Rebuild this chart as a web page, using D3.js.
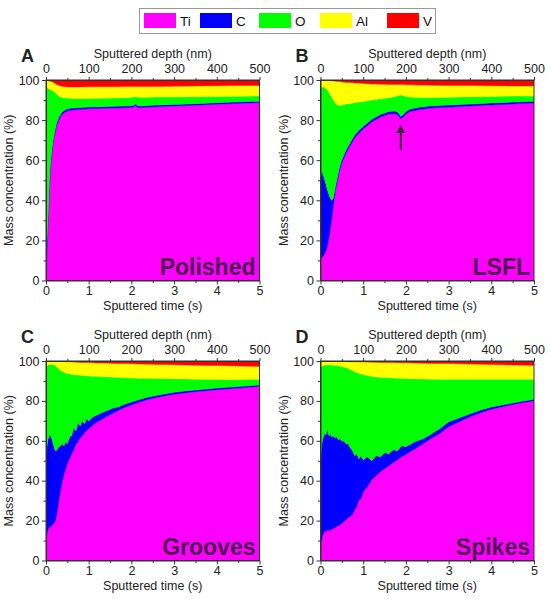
<!DOCTYPE html>
<html><head><meta charset="utf-8">
<script src="https://cdn.jsdelivr.net/npm/d3@7"></script>
<style>
body{margin:0;background:#fff}
text{font-family:"Liberation Sans",Arial,Helvetica,sans-serif}
</style>
</head><body>
<svg id="chart" width="550" height="599"></svg>
<script>
// ---- data ----
const elements = ["Ti","C","O","Al","V"];
const elementColors = ["#ff00ff","#0000ff","#00ff00","#ffff00","#ff0000"];
const yTickValues = [0,20,40,60,80,100];
const timeTickValues = [0,1,2,3,4,5];
const depthTickValues = [0,100,200,300,400,500];

// Panel A (Polished)
const timeA = [0,0.02,0.04,0.06,0.08,0.1,0.13,0.16,0.2,0.25,0.3,0.35,0.4,0.5,0.6,0.8,1.0,1.3,1.6,1.9,2.05,2.1,2.15,2.3,2.6,3.0,3.5,4.0,4.5,5.0];
const TiA = [3,12,22,33,45,54,61,67,72,77,80,82,83.3,84.5,85,85.3,85.6,85.8,86,86.2,86.4,87.3,86.2,86.3,86.6,87,87.4,87.9,88.3,88.7];
const CA  = [7,6,5,4,3.5,3,2.5,2,1.8,1.6,1.4,1.3,1.2,1.1,1,1,0.9,0.9,0.9,0.9,0.9,0.9,0.9,0.9,0.9,0.8,0.8,0.8,0.8,0.7];
const OA  = [89,79,69,58.5,47,38,31.5,25.7,20.2,14.4,10.6,8.2,6.7,5.4,4.8,4.5,4.3,4.2,4.1,4.1,4.2,3.4,4.3,4.2,4,3.7,3.4,3.1,2.8,2.6];
const AlA = [1,2.8,3.7,4.1,4,4.3,4.2,4.3,4.4,4.8,5.3,5.5,5.6,5.5,5.7,5.7,5.8,5.7,5.6,5.5,5.2,5.1,5.3,5.3,5.3,5.4,5.4,5.3,5.3,5.3];
const VA  = [0,0.2,0.3,0.4,0.5,0.7,0.8,1,1.6,2.2,2.7,3,3.2,3.5,3.5,3.5,3.4,3.4,3.4,3.3,3.3,3.3,3.3,3.3,3.2,3.1,3,2.9,2.8,2.7];

// Panel B (LSFL)
const timeB = [0,0.03,0.06,0.1,0.14,0.18,0.22,0.26,0.3,0.35,0.4,0.45,0.5,0.6,0.7,0.8,0.9,1.0,1.2,1.4,1.6,1.75,1.82,1.88,1.94,2.0,2.1,2.3,2.6,3.0,3.5,4.0,4.5,5.0];
const TiB = [11,11.5,12,13.5,15.5,19,24,30,37,45,50,55,58.5,63.5,67.5,71,73.5,75.5,79,81.5,83,83.2,82.5,80.5,81.5,83,84.3,85.2,86,86.4,87,87.5,88,88.5];
const CB  = [39,43.5,41,36.5,31.5,25,17.5,10,4,2,2,1.8,1.7,1.6,1.5,1.5,1.5,1.4,1.4,1.3,1.3,1.3,1.3,1.3,1.3,1.3,1.2,1.2,1.1,1.1,1,1,1,0.9];
const OB  = [46,41.5,43.5,46.3,48.5,50.5,51.5,51.5,49,41.5,35.5,30.5,27.3,22.9,19.3,16.2,14,12.4,9.6,7.8,6.9,7.3,8.5,10.8,9.4,7.5,6,4.9,4.2,3.9,3.6,3.3,3,2.6];
const AlB = [4,3.4,3.4,3.6,4.3,5.2,6.7,8.1,9.5,10.9,11.8,11.9,11.5,10.8,10.4,9.8,9.4,9,8,7.3,6.6,6,5.4,5.1,5.5,5.8,6.1,6.2,6.1,5.8,5.6,5.3,5,5];
const VB  = [0,0.1,0.1,0.1,0.2,0.3,0.3,0.4,0.5,0.6,0.7,0.8,1,1.2,1.3,1.5,1.6,1.7,2,2.1,2.2,2.2,2.3,2.3,2.3,2.4,2.4,2.5,2.6,2.8,2.8,2.9,3,3];

// Panels C (Grooves) and D (Spikes)
const timeCD = [0,0.02,0.05,0.08,0.1,0.13,0.16,0.2,0.23,0.26,0.3,0.34,0.38,0.42,0.46,0.5,0.55,0.6,0.65,0.7,0.75,0.8,0.85,0.9,0.95,1.0,1.1,1.2,1.3,1.4,1.5,1.6,1.7,1.8,1.9,2.0,2.2,2.4,2.6,2.8,3.0,3.25,3.5,3.75,4.0,4.25,4.5,4.75,5.0];
const TiC = [10,13,15.5,17,16.5,17.5,18,19,20.5,24,30,35,39.5,43,46,48.5,51,53.5,55.5,58,59.5,61.5,62.5,64,65,66,68,69.5,70.5,72,73,74.2,75.3,76.3,77.2,78,79.5,80.8,81.7,82.6,83.3,84,84.6,85.1,85.6,86,86.4,86.8,87.3];
const CC  = [40,44,45.5,45.5,46.5,44,41,37,34.5,31.5,27,22.5,19,14.5,13.5,10,11,9,11,7,9.5,6,7.5,4.5,6,4,4,3.5,3.5,3,2.8,2.5,1.7,1.8,1.6,1.5,1.3,1.2,1.1,1,1,1,0.9,0.9,0.9,0.9,0.8,0.8,0.7];
const OC  = [47,40.5,37,35.7,35.3,36.8,39.2,42,42.5,41.5,39,37.8,36.3,36.8,34.5,35.2,31.5,30.8,26.7,28,24,25.4,22.8,24.2,21.6,22.5,20.4,19.3,18.2,17.1,16.2,15.2,14.8,13.6,12.8,12,10.6,9.3,8.4,7.6,6.8,6,5.4,4.8,4.2,3.8,3.5,3.2,2.8];
const AlC = [3,2.5,2,1.8,1.6,1.6,1.7,1.9,2.4,2.8,3.8,4.5,5,5.4,5.7,5.9,6.1,6.2,6.3,6.4,6.4,6.4,6.5,6.6,6.6,6.7,6.7,6.7,6.8,6.9,6.9,6.9,7,7,7.1,7.1,7.1,7.1,7.1,7.1,7,7,7,7,7,6.9,6.8,6.6,6.5];
const VC  = [0,0,0,0,0.1,0.1,0.1,0.1,0.1,0.2,0.2,0.2,0.2,0.3,0.3,0.4,0.4,0.5,0.5,0.6,0.6,0.7,0.7,0.7,0.8,0.8,0.9,1,1,1,1.1,1.2,1.2,1.3,1.3,1.4,1.5,1.6,1.7,1.7,1.9,2,2.1,2.2,2.3,2.4,2.5,2.6,2.7];

const TiD = [7,9,12.5,14,14.5,14.8,15,15.2,15.3,15.5,16,16.5,17,17.5,18,18.7,19.5,20.5,21.5,22.3,23,25.5,27,30.5,31,34.5,37,40.5,42.5,44.5,46,47.5,49,50.5,52,53.3,55.8,58.5,61.3,63.8,67,69.5,72,74,75.8,77,78.2,79.2,80];
const CD  = [41,47,48.5,48.5,49.5,48.2,51,47.3,48.2,46.5,46.5,45,45,43,43,41.3,40.3,38,37,34.2,32,27,26.5,20.5,21.5,16,15,9.5,10,7.5,8,6,6.5,4.5,5.5,3.7,3.7,2.5,2.2,2.5,2.5,2,1.5,1.5,1.2,1,0.8,0.8,0.8];
const OD  = [49,41.3,36.5,35.3,34,35,32,35.5,34.5,36,35.4,36.3,35.7,37.1,36.4,37.2,37.2,38.2,37.8,39.3,40.2,42.1,40.7,42.8,41,42.7,40.7,42.3,39.5,39.8,37.7,38.1,36,36.4,33.8,34.2,31.6,30,27.4,24.6,21.3,19.3,17.3,15.3,13.8,12.8,11.8,10.8,10];
const AlD = [3,2.7,2.5,2.1,1.9,1.9,1.9,1.9,1.9,1.9,2,2.1,2.15,2.2,2.4,2.6,2.75,3,3.4,3.85,4.4,5,5.35,5.75,6,6.3,6.75,7.1,7.35,7.5,7.6,7.65,7.7,7.75,7.8,7.9,7.9,7.9,7.9,7.9,7.9,7.8,7.7,7.6,7.4,7.3,7.2,7.1,7];
const VD  = [0,0,0,0.05,0.1,0.1,0.1,0.1,0.1,0.1,0.1,0.1,0.15,0.2,0.2,0.2,0.25,0.3,0.3,0.35,0.4,0.4,0.45,0.45,0.5,0.5,0.55,0.6,0.65,0.7,0.7,0.75,0.8,0.85,0.9,0.9,1,1.1,1.2,1.2,1.3,1.4,1.5,1.6,1.8,1.9,2,2.1,2.2];

// arrow annotation in LSFL panel (time s, from %, to %)
const arrowB = {t: 1.88, from: 65, to: 77.5};

// ---- layout ----
const panels = [
  {letter:"A", name:"Polished", time:timeA, vals:[TiA,CA,OA,AlA,VA], x0:46,  x1:259.5, y0:80,  y1:280.5},
  {letter:"B", name:"LSFL",     time:timeB, vals:[TiB,CB,OB,AlB,VB], x0:320.5,x1:534,   y0:80,  y1:280.5, arrow:arrowB},
  {letter:"C", name:"Grooves",  time:timeCD,vals:[TiC,CC,OC,AlC,VC], x0:46,  x1:259.5, y0:361, y1:560.5},
  {letter:"D", name:"Spikes",   time:timeCD,vals:[TiD,CD,OD,AlD,VD], x0:320.5,x1:534,   y0:361, y1:560.5}
];
const legendX = [144,200,259,320,387];

const svg = d3.select("#chart");
const axisColor = "#333";
const fs = 12.5;

// legend
svg.append("rect").attr("x",139.5).attr("y",8.5).attr("width",296).attr("height",25)
  .attr("fill","#fff").attr("stroke","#999").attr("stroke-width",1);
elements.forEach((k,i)=>{
  svg.append("rect").attr("x",legendX[i]).attr("y",13).attr("width",32).attr("height",15).attr("fill",elementColors[i]);
  svg.append("text").attr("x",legendX[i]+36).attr("y",25.5).attr("font-size",13.5).attr("fill","#111").text(k);
});

const stack = d3.stack().keys(elements).offset(d3.stackOffsetExpand);
const intFmt = d3.format("d");

panels.forEach((p,pi)=>{
  const x = d3.scaleLinear().domain([0,5]).range([p.x0,p.x1]);
  const xd = d3.scaleLinear().domain([0,500]).range([p.x0,p.x1]);
  const y = d3.scaleLinear().domain([0,100]).range([p.y1,p.y0]);
  const rows = p.time.map((t,i)=>{
    const r = {t:t};
    elements.forEach((k,j)=>{ r[k] = p.vals[j][i]; });
    return r;
  });
  const series = stack(rows);
  const clipId = "clip"+pi;
  svg.append("clipPath").attr("id",clipId).append("rect")
    .attr("x",p.x0).attr("y",p.y0).attr("width",p.x1-p.x0).attr("height",p.y1-p.y0);
  const g = svg.append("g").attr("clip-path","url(#"+clipId+")");
  const area = d3.area().x(d=>x(d.data.t)).y0(d=>y(d[0]*100)).y1(d=>y(d[1]*100));
  g.selectAll("path").data(series).join("path")
    .attr("d",area).attr("fill",(d,i)=>elementColors[i])
    .attr("stroke",(d,i)=>elementColors[i]).attr("stroke-width",0.4);

  // frame
  svg.append("rect").attr("x",p.x0).attr("y",p.y0).attr("width",p.x1-p.x0).attr("height",p.y1-p.y0)
    .attr("fill","none").attr("stroke",axisColor).attr("stroke-width",1);

  function style(ax){
    ax.selectAll("path").attr("stroke",axisColor);
    ax.selectAll("line").attr("stroke",axisColor);
    ax.selectAll("text").attr("font-size",fs).attr("fill","#222")
      .attr("font-family","'Liberation Sans',Arial,sans-serif");
  }
  // bottom axis
  const bx = svg.append("g").attr("transform",`translate(0,${p.y1})`)
    .call(d3.axisBottom(x).tickValues(timeTickValues).tickFormat(intFmt).tickSize(4).tickSizeOuter(0).tickPadding(2));
  style(bx);
  const bxm = svg.append("g").attr("transform",`translate(0,${p.y1})`)
    .call(d3.axisBottom(x).tickValues([0.5,1.5,2.5,3.5,4.5]).tickSize(2.5).tickFormat(""));
  style(bxm); bxm.select("path").remove();
  // top axis
  const tx = svg.append("g").attr("transform",`translate(0,${p.y0})`)
    .call(d3.axisTop(xd).tickValues(depthTickValues).tickFormat(intFmt).tickSize(3).tickSizeOuter(0).tickPadding(4));
  style(tx);
  const txm = svg.append("g").attr("transform",`translate(0,${p.y0})`)
    .call(d3.axisTop(xd).tickValues([50,150,250,350,450]).tickSize(2).tickFormat(""));
  style(txm); txm.select("path").remove();
  // left axis
  const ly = svg.append("g").attr("transform",`translate(${p.x0},0)`)
    .call(d3.axisLeft(y).tickValues(yTickValues).tickFormat(intFmt).tickSize(4).tickSizeOuter(0).tickPadding(2.5));
  style(ly);
  const lym = svg.append("g").attr("transform",`translate(${p.x0},0)`)
    .call(d3.axisLeft(y).tickValues([10,30,50,70,90]).tickSize(2.5).tickFormat(""));
  style(lym); lym.select("path").remove();

  const cx = (p.x0+p.x1)/2;
  svg.append("text").attr("x",cx).attr("y",p.y0-22).attr("text-anchor","middle")
    .attr("font-size",fs).attr("fill","#222").text("Sputtered depth (nm)");
  svg.append("text").attr("x",cx).attr("y",p.y1+29.5).attr("text-anchor","middle")
    .attr("font-size",fs).attr("fill","#222").text("Sputtered time (s)");
  svg.append("text").attr("transform",`translate(${p.x0-33},${(p.y0+p.y1)/2}) rotate(-90)`)
    .attr("text-anchor","middle").attr("font-size",fs).attr("fill","#222").text("Mass concentration (%)");
  svg.append("text").attr("x",p.x0-25).attr("y",p.y0-18).attr("font-size",18).attr("font-weight","bold")
    .attr("fill","#222").text(p.letter);
  svg.append("text").attr("x",p.x1-4).attr("y",p.y1-5.5).attr("text-anchor","end")
    .attr("font-size",23).attr("font-weight","bold").attr("fill","#4b1a4e").text(p.name);

  if(p.arrow){
    const ax = x(p.arrow.t), ya = y(p.arrow.from), yb = y(p.arrow.to);
    svg.append("line").attr("x1",ax).attr("x2",ax).attr("y1",ya).attr("y2",yb+6)
      .attr("stroke","#3a2a33").attr("stroke-width",2);
    svg.append("path").attr("d",`M${ax},${yb} L${ax-4.5},${yb+8} L${ax+4.5},${yb+8} Z`).attr("fill","#3a2a33");
  }
});
</script>
</body></html>
